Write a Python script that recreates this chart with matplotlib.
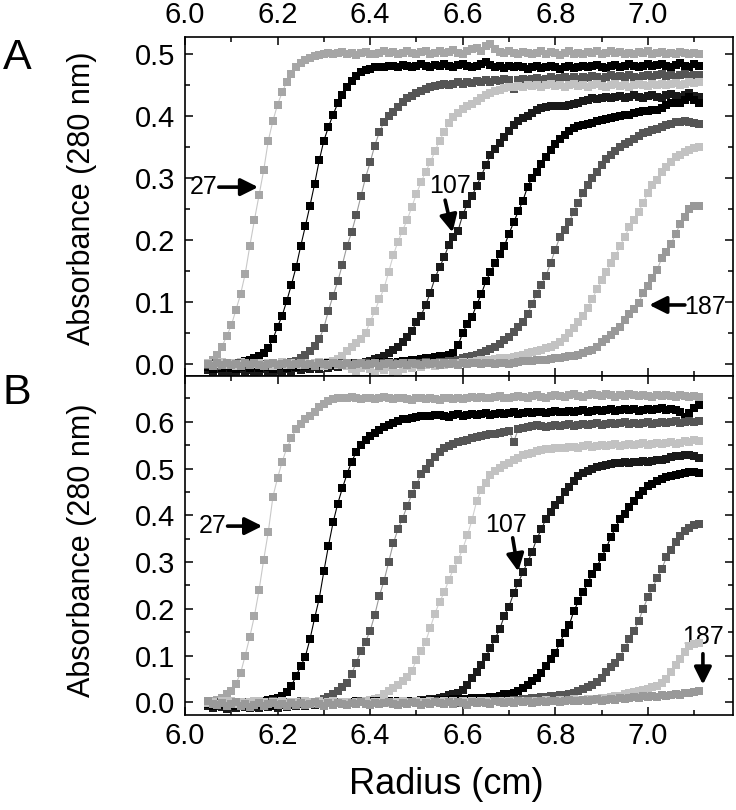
import numpy as np
import matplotlib
matplotlib.use("Agg")
import matplotlib.pyplot as plt
from matplotlib.ticker import MultipleLocator

plt.rcParams['font.family'] = ['Liberation Sans', 'DejaVu Sans']

# radial grid of the scans (cm), 6.05 ... 7.11 in 0.01 steps
radius = np.round(np.arange(6.05, 7.115, 0.01), 2)

# ---- panel A, absorbance in milli-units, one list per scan ----
a1 = [2, 6, 14, 28, 45, 62, 87, 112, 145, 190,
      232, 272, 312, 360, 392, 418, 438, 455, 468, 478,
      485, 490, 493, 496, 498, 500, 502, 499, 501, 503,
      500, 502, 498, 501, 503, 500, 499, 502, 504, 501,
      503, 500, 502, 505, 501, 499, 503, 504, 500, 502,
      504, 501, 503, 506, 502, 500, 504, 507, 510, 505,
      512, 515, 508, 503, 501, 504, 502, 500, 503, 501,
      499, 502, 504, 500, 503, 501, 498, 502, 504, 500,
      502, 499, 503, 501, 504, 500, 502, 505, 501, 503,
      500, 502, 499, 503, 501, 504, 500, 502, 503, 499,
      502, 500, 503, 501, 499, 502, 500]
a2 = [-6, -9, -5, -8, -10, -6, -3, 1, 4, 6,
      9, 12, 17, 26, 40, 60, 78, 102, 128, 156,
      190, 222, 255, 290, 328, 360, 382, 402, 420, 434,
      446, 456, 464, 470, 474, 476, 478, 479, 478, 480,
      481, 479, 482, 480, 478, 481, 483, 480, 479, 482,
      480, 483, 481, 479, 482, 484, 480, 478, 481, 483,
      486, 482, 479, 481, 477, 480, 478, 481, 479, 476,
      478, 480, 477, 479, 481, 478, 476, 479, 480, 477,
      479, 481, 478, 480, 482, 479, 477, 480, 482, 479,
      481, 483, 480, 478, 481, 483, 480, 482, 484, 481,
      479, 482, 485, 481, 478, 483, 480]
a3 = [-3, 0, -2, 1, -4, -1, 2, -2, 0, -3,
      1, -1, 0, 2, -2, 0, 1, 2, 3, 5,
      9, 14, 20, 29, 40, 58, 86, 110, 133, 160,
      190, 212, 240, 270, 300, 325, 352, 374, 390, 400,
      406, 414, 422, 428, 432, 436, 440, 443, 446, 448,
      449, 451, 450, 452, 454, 452, 455, 453, 456, 454,
      457, 455, 458, 456, 459, 457, 443, 458, 460, 457,
      459, 461, 458, 460, 462, 459, 461, 463, 460, 462,
      460, 463, 461, 464, 462, 460, 463, 465, 462, 464,
      462, 465, 463, 461, 464, 466, 463, 465, 467, 464,
      466, 463, 465, 468, 464, 466, 465]
a4 = [0, -3, 2, -1, -4, 1, -2, 3, -1, 0,
      -3, 1, -2, 2, 0, -1, 3, -2, 1, -1,
      0, 2, -1, 1, 3, 2, 3, 5, 8, 13,
      20, 27, 33, 40, 50, 68, 85, 104, 122, 148,
      175, 197, 215, 232, 253, 274, 293, 310, 325, 343,
      360, 374, 388, 398, 405, 411, 415, 419, 424, 428,
      433, 437, 440, 442, 445, 447, 446, 448, 447, 449,
      448, 450, 447, 449, 451, 448, 450, 446, 449, 451,
      448, 450, 447, 449, 451, 448, 446, 449, 451, 448,
      450, 447, 449, 452, 450, 448, 451, 449, 452, 450,
      451, 453, 450, 452, 455, 453, 454]
a5 = [-10, -13, -9, -14, -11, -15, -12, -9, -13, -10,
      -14, -11, -8, -12, -15, -10, -13, -9, -11, -7,
      -10, -6, -9, -5, -8, -4, -6, -3, -5, -2,
      -3, 0, -1, 2, 3, 5, 8, 10, 13, 17,
      22, 28, 35, 43, 53, 67, 78, 95, 115, 138,
      156, 172, 192, 205, 215, 240, 258, 270, 287, 303,
      320, 336, 347, 356, 366, 376, 385, 392, 396, 400,
      405, 410, 412, 414, 415, 416, 416, 416, 417, 419,
      421, 424, 426, 428, 427, 429, 431, 428, 430, 432,
      429, 431, 433, 430, 428, 432, 434, 431, 429, 433,
      435, 432, 430, 434, 436, 432, 430]
a6 = [-5, -8, -4, -7, -3, -6, -9, -5, -2, -6,
      -4, -7, -3, -5, -8, -4, -2, -6, -3, -5,
      -2, -4, -1, -3, 0, -2, 1, -1, 0, 2,
      0, 1, 2, 0, 1, 2, 1, 3, 2, 3,
      2, 3, 4, 5, 6, 7, 8, 9, 10, 11,
      12, 13, 15, 18, 30, 50, 65, 76, 95, 112,
      133, 148, 162, 177, 190, 210, 228, 246, 263, 285,
      300, 310, 322, 334, 345, 355, 362, 369, 376, 380,
      383, 385, 387, 389, 391, 393, 395, 397, 398, 400,
      401, 402, 404, 406, 407, 408, 409, 410, 413, 417,
      420, 420, 420, 425, 430, 425, 420]
a7 = [-2, 1, -3, 0, 2, -1, -4, 1, -2, 0,
      2, -2, 0, -3, 1, -1, 2, -2, 0, 1,
      -1, 2, 0, -2, 1, -1, 0, 2, -1, 1,
      0, -2, 1, 0, 2, -1, 1, 0, 2, -1,
      1, 0, 2, 1, 0, 2, 1, 3, 2, 2,
      3, 3, 4, 5, 7, 9, 11, 13, 15, 18,
      21, 24, 27, 32, 38, 44, 52, 60, 68, 80,
      97, 113, 127, 142, 163, 184, 205, 216, 229, 245,
      260, 275, 288, 300, 310, 320, 330, 336, 343, 349,
      354, 358, 362, 368, 372, 374, 377, 379, 382, 385,
      387, 390, 390, 392, 390, 388, 387]
a8 = [1, -2, 0, 3, -1, 2, -3, 0, 1, -2,
      0, 2, -1, 1, -3, 0, 2, -2, 1, 0,
      -2, 1, 0, -1, 2, -3, 0, 1, -2, 0,
      -4, -8, -12, -6, -3, -9, -14, -7, -10, -5,
      -11, -15, -8, -4, -6, -2, -5, -1, 0, -3,
      1, -1, 2, 0, 1, 3, 2, 3, 5, 6,
      6, 7, 8, 9, 10, 10, 11, 13, 15, 17,
      19, 21, 23, 25, 27, 30, 35, 42, 50, 58,
      67, 78, 90, 105, 120, 135, 148, 162, 174, 190,
      205, 220, 232, 245, 260, 275, 288, 297, 310, 318,
      326, 333, 337, 341, 345, 348, 350]
a9 = [0, -3, 1, -2, 2, -1, 0, -4, 1, -2,
      1, -1, -3, 0, 2, -2, 0, 1, -1, 0,
      2, -1, 0, -3, 1, 0, -2, 1, 0, -1,
      1, -2, 0, 2, -1, 0, 1, -3, 0, 1,
      -1, 0, 2, -1, 1, 0, -2, 1, 0, 2,
      -1, 1, 0, 2, -1, 1, 0, 2, 1, 0,
      2, 1, 0, 2, 1, 0, 2, 3, 4, 5,
      5, 6, 6, 7, 8, 9, 10, 11, 12, 13,
      15, 17, 20, 23, 28, 35, 40, 46, 53, 60,
      70, 80, 88, 98, 115, 125, 138, 152, 170, 180,
      193, 210, 225, 237, 250, 255, 255]

# ---- panel B ----
b1 = [0, 2, 6, 10, 17, 25, 40, 62, 100, 140,
      185, 240, 305, 365, 440, 480, 515, 544, 565, 585,
      596, 605, 612, 622, 632, 638, 645, 648, 650, 652,
      650, 653, 651, 649, 652, 650, 648, 651, 653, 650,
      648, 650, 652, 649, 647, 650, 652, 648, 651, 649,
      647, 650, 652, 649, 651, 648, 650, 653, 651, 654,
      652, 650, 653, 655, 652, 650, 654, 656, 653, 651,
      655, 657, 654, 652, 656, 658, 655, 653, 657, 659,
      656, 654, 658, 660, 657, 655, 659, 657, 654, 658,
      656, 659, 657, 655, 658, 656, 654, 657, 655, 658,
      656, 654, 657, 655, 653, 656, 654]
b2 = [-6, -9, -5, -8, -4, -7, -3, -6, -2, -4,
      0, 2, 3, 5, 7, 9, 13, 22, 36, 56,
      78, 98, 135, 180, 222, 280, 335, 385, 425, 458,
      488, 515, 535, 551, 562, 570, 576, 582, 588, 594,
      598, 602, 605, 607, 609, 610, 612, 613, 612, 614,
      615, 613, 611, 614, 616, 613, 615, 617, 614, 616,
      618, 615, 617, 619, 616, 618, 620, 617, 619, 621,
      618, 620, 622, 619, 621, 623, 620, 622, 624, 621,
      623, 625, 622, 624, 626, 623, 625, 627, 624, 626,
      628, 625, 627, 624, 626, 628, 625, 627, 629, 626,
      628, 625, 620, 610, 618, 630, 635]
b3 = [-2, 1, -3, 0, 2, -1, -4, 1, -2, 0,
      2, -2, 0, -3, 1, -1, 2, -2, 0, 1,
      -1, 1, 0, 1, 3, 7, 12, 18, 25, 32,
      42, 61, 85, 110, 130, 153, 187, 228, 260, 300,
      340, 370, 393, 420, 445, 465, 488, 500, 513, 525,
      535, 543, 549, 552, 556, 559, 562, 565, 567, 569,
      571, 573, 575, 577, 578, 580, 557, 584, 586, 588,
      590, 593, 591, 589, 592, 594, 591, 593, 595, 592,
      594, 596, 593, 595, 597, 594, 596, 598, 595, 597,
      599, 596, 598, 595, 597, 599, 596, 598, 600, 597,
      599, 601, 598, 600, 602, 599, 601]
b4 = [1, -2, 0, 3, -1, 2, -3, 0, 1, -2,
      0, 2, -1, 1, -3, 0, 2, -2, 1, 0,
      -2, 1, 0, -1, 2, -3, 0, 1, -2, 0,
      1, -1, 0, 2, 3, 5, 7, 10, 17, 24,
      31, 38, 46, 55, 68, 90, 110, 130, 160, 190,
      215, 235, 262, 285, 305, 328, 357, 390, 430, 455,
      470, 486, 495, 502, 507, 512, 518, 523, 528, 531,
      534, 537, 539, 541, 542, 544, 545, 543, 546, 547,
      545, 548, 550, 547, 549, 551, 548, 550, 552, 549,
      551, 553, 550, 552, 554, 551, 553, 555, 552, 554,
      556, 553, 555, 558, 556, 561, 559]
b5 = [-8, -12, -7, -10, -14, -9, -11, -6, -10, -13,
      -9, -12, -7, -10, -8, -11, -6, -9, -5, -8,
      -4, -7, -3, -6, -2, -5, -1, -4, 0, -3,
      -1, 0, -2, 1, -1, 0, 2, -1, 0, 1,
      0, 0, 1, 2, 3, 4, 5, 6, 7, 8,
      10, 12, 15, 17, 20, 27, 37, 52, 66, 80,
      97, 117, 136, 157, 185, 205, 233, 256, 278, 300,
      322, 350, 370, 393, 408, 422, 433, 449, 461, 474,
      484, 490, 495, 500, 503, 505, 507, 509, 511, 513,
      514, 513, 515, 514, 516, 515, 517, 518, 519, 521,
      525, 526, 527, 528, 529, 526, 523]
b6 = [-4, -7, -3, -6, -2, -5, -8, -4, -1, -5,
      -3, -6, -2, -4, -7, -3, -1, -5, -2, -4,
      -1, -3, 0, -2, 1, -1, 0, 2, 0, 1,
      0, 1, 2, 0, 1, 2, 1, 2, 1, 2,
      1, 2, 1, 2, 2, 1, 2, 3, 4, 5,
      5, 6, 6, 7, 7, 8, 8, 9, 9, 10,
      10, 11, 12, 14, 17, 18, 19, 25, 30, 37,
      45, 53, 63, 78, 92, 106, 127, 149, 165, 195,
      216, 235, 256, 275, 290, 310, 330, 353, 373, 393,
      402, 417, 430, 443, 453, 462, 468, 473, 478, 482,
      485, 487, 489, 490, 492, 492, 490]
b7 = [0, -3, 1, -2, 2, -1, 0, -4, 1, -2,
      1, -1, -3, 0, 2, -2, 0, 1, -1, 0,
      2, -1, 0, -3, 1, 0, -2, 1, 0, -1,
      1, -2, 0, 2, -1, 0, 1, -3, 0, 1,
      -1, 0, 2, -1, 1, 0, -2, 1, 0, 2,
      -1, 1, 0, 2, -1, 1, 0, 2, 1, 0,
      1, 2, 3, 3, 4, 4, 5, 6, 7, 8,
      9, 10, 11, 12, 13, 14, 15, 16, 18, 20,
      24, 28, 32, 37, 44, 52, 64, 75, 85, 97,
      116, 135, 153, 174, 200, 225, 245, 265, 285, 310,
      325, 343, 355, 366, 372, 380, 382]
b8 = [-2, 1, -3, 0, 2, -1, -4, 1, -2, 0,
      2, -2, 0, -3, 1, -1, 2, -2, 0, 1,
      -1, 2, 0, -2, 1, -1, 0, 2, -1, 1,
      0, -2, 1, 0, 2, -1, 1, 0, 2, -1,
      1, 0, 2, 1, 0, 2, 1, 0, 2, 1,
      0, 2, 1, 3, 1, 2, 0, 2, 1, 3,
      2, 1, 3, 2, 1, 3, 2, 4, 3, 2,
      4, 2, 3, 5, 3, 4, 6, 4, 5, 7,
      6, 5, 7, 8, 6, 10, 9, 11, 14, 13,
      17, 20, 22, 24, 26, 29, 32, 35, 42, 50,
      65, 80, 93, 108, 120, 125, 128]
b9 = [2, -3, -6, -1, -8, -4, 0, -7, -3, -9,
      -5, -2, -7, -4, -1, -6, -3, -8, -2, -5,
      -1, -6, -3, 0, -4, -7, -2, -5, -1, -4,
      -6, -2, -4, 0, -3, -5, -1, -4, -2, 0,
      -3, -5, -1, -4, 0, -2, -6, -1, -3, 0,
      -2, -4, 0, -3, 1, -1, -5, 0, -2, 1,
      -1, -3, 2, 0, -2, 1, -1, 3, 0, 2,
      -1, 1, 3, 0, 2, 4, 1, 3, 5, 2,
      4, 6, 3, 5, 7, 4, 6, 8, 5, 9,
      7, 10, 12, 9, 13, 11, 14, 12, 15, 13,
      16, 18, 15, 19, 21, 22, 24]

scans_a = [a1, a2, a3, a4, a5, a6, a7, a8, a9]
scans_b = [b1, b2, b3, b4, b5, b6, b7, b8, b9]

# marker colour, fit-line colour, marker size per scan
colors = ['#a6a6a6', '#000000', '#555555', '#c2c2c2', '#1a1a1a',
          '#000000', '#555555', '#c2c2c2', '#999999']
line_colors = ['#c8c8c8', '#000000', '#9a9a9a', '#d0d0d0', '#333333',
               '#000000', '#9a9a9a', '#d0d0d0', '#bbbbbb']
sizes = [5.3, 6.4, 5.6, 5.3, 6.2, 6.4, 5.6, 5.3, 5.3]
draw_order = [1, 4, 5, 2, 6, 8, 7, 3, 0]

fig = plt.figure(figsize=(7.36, 8.10), dpi=100)
ax_a = fig.add_axes([185 / 736, 1 - 376 / 810, 548 / 736, 339 / 810])
ax_b = fig.add_axes([185 / 736, 1 - 715 / 810, 548 / 736, 339 / 810])


def draw_panel(ax, scans):
    for i in draw_order:
        vals = np.array(scans[i]) / 1000.0
        ax.plot(radius, vals, '-', color=line_colors[i], lw=0.8, zorder=2 + i * 0.01)
        ax.plot(radius, vals, 's', color=colors[i], ms=sizes[i], mew=0,
                zorder=3 + i * 0.01)
    ax.set_xlim(6.0, 7.184)
    ax.xaxis.set_major_locator(MultipleLocator(0.2))
    ax.xaxis.set_minor_locator(MultipleLocator(0.1))
    ax.yaxis.set_major_locator(MultipleLocator(0.1))
    ax.yaxis.set_minor_locator(MultipleLocator(0.05))
    ax.tick_params(which='both', direction='in', top=True, right=True,
                   width=1.1, labelsize=21)
    ax.tick_params(which='major', length=5.5)
    ax.tick_params(which='minor', length=3.5)
    ax.tick_params(axis='y', pad=7)
    for sp in ax.spines.values():
        sp.set_linewidth(1.2)


draw_panel(ax_a, scans_a)
draw_panel(ax_b, scans_b)

ax_a.set_ylim(-0.0195, 0.527)
ax_b.set_ylim(-0.027, 0.698)
ax_a.tick_params(axis='x', labeltop=True, labelbottom=False, pad=6)
ax_b.tick_params(axis='x', pad=5)
ax_a.xaxis.set_major_formatter(plt.FormatStrFormatter('%.1f'))
ax_b.xaxis.set_major_formatter(plt.FormatStrFormatter('%.1f'))
ax_a.yaxis.set_major_formatter(plt.FormatStrFormatter('%.1f'))
ax_b.yaxis.set_major_formatter(plt.FormatStrFormatter('%.1f'))

arrow = dict(arrowstyle='-|>', color='k', lw=2.6, mutation_scale=26,
             shrinkA=0, shrinkB=0)

# panel A labels
ax_a.text(6.071, 0.285, '27', ha='right', va='center', fontsize=18)
ax_a.annotate('', xy=(6.158, 0.285), xytext=(6.073, 0.285), arrowprops=arrow)
ax_a.text(6.572, 0.287, '107', ha='center', va='center', fontsize=18)
ax_a.annotate('', xy=(6.578, 0.212), xytext=(6.562, 0.264), arrowprops=arrow)
ax_a.text(7.079, 0.092, '187', ha='left', va='center', fontsize=18)
ax_a.annotate('', xy=(7.003, 0.095), xytext=(7.080, 0.095), arrowprops=arrow)

# panel B labels
ax_b.text(6.090, 0.377, '27', ha='right', va='center', fontsize=18)
ax_b.annotate('', xy=(6.167, 0.377), xytext=(6.092, 0.377), arrowprops=arrow)
ax_b.text(6.693, 0.380, '107', ha='center', va='center', fontsize=18)
ax_b.annotate('', xy=(6.720, 0.280), xytext=(6.708, 0.352), arrowprops=arrow)
ax_b.text(7.119, 0.140, '187', ha='center', va='center', fontsize=18)
ax_b.annotate('', xy=(7.119, 0.038), xytext=(7.119, 0.104), arrowprops=arrow)

fig.text(82 / 736, 1 - 198 / 810, 'Absorbance (280 nm)', rotation=90,
         ha='center', va='center', fontsize=22)
fig.text(82 / 736, 1 - 550 / 810, 'Absorbance (280 nm)', rotation=90,
         ha='center', va='center', fontsize=22)
fig.text(446 / 736, 1 - 785 / 810, 'Radius (cm)', ha='center', va='center',
         fontsize=26)
fig.text(3 / 736, 1 - 58 / 810, 'A', ha='left', va='center', fontsize=31)
fig.text(3 / 736, 1 - 393 / 810, 'B', ha='left', va='center', fontsize=31)

fig.savefig('out.png', dpi=100)
